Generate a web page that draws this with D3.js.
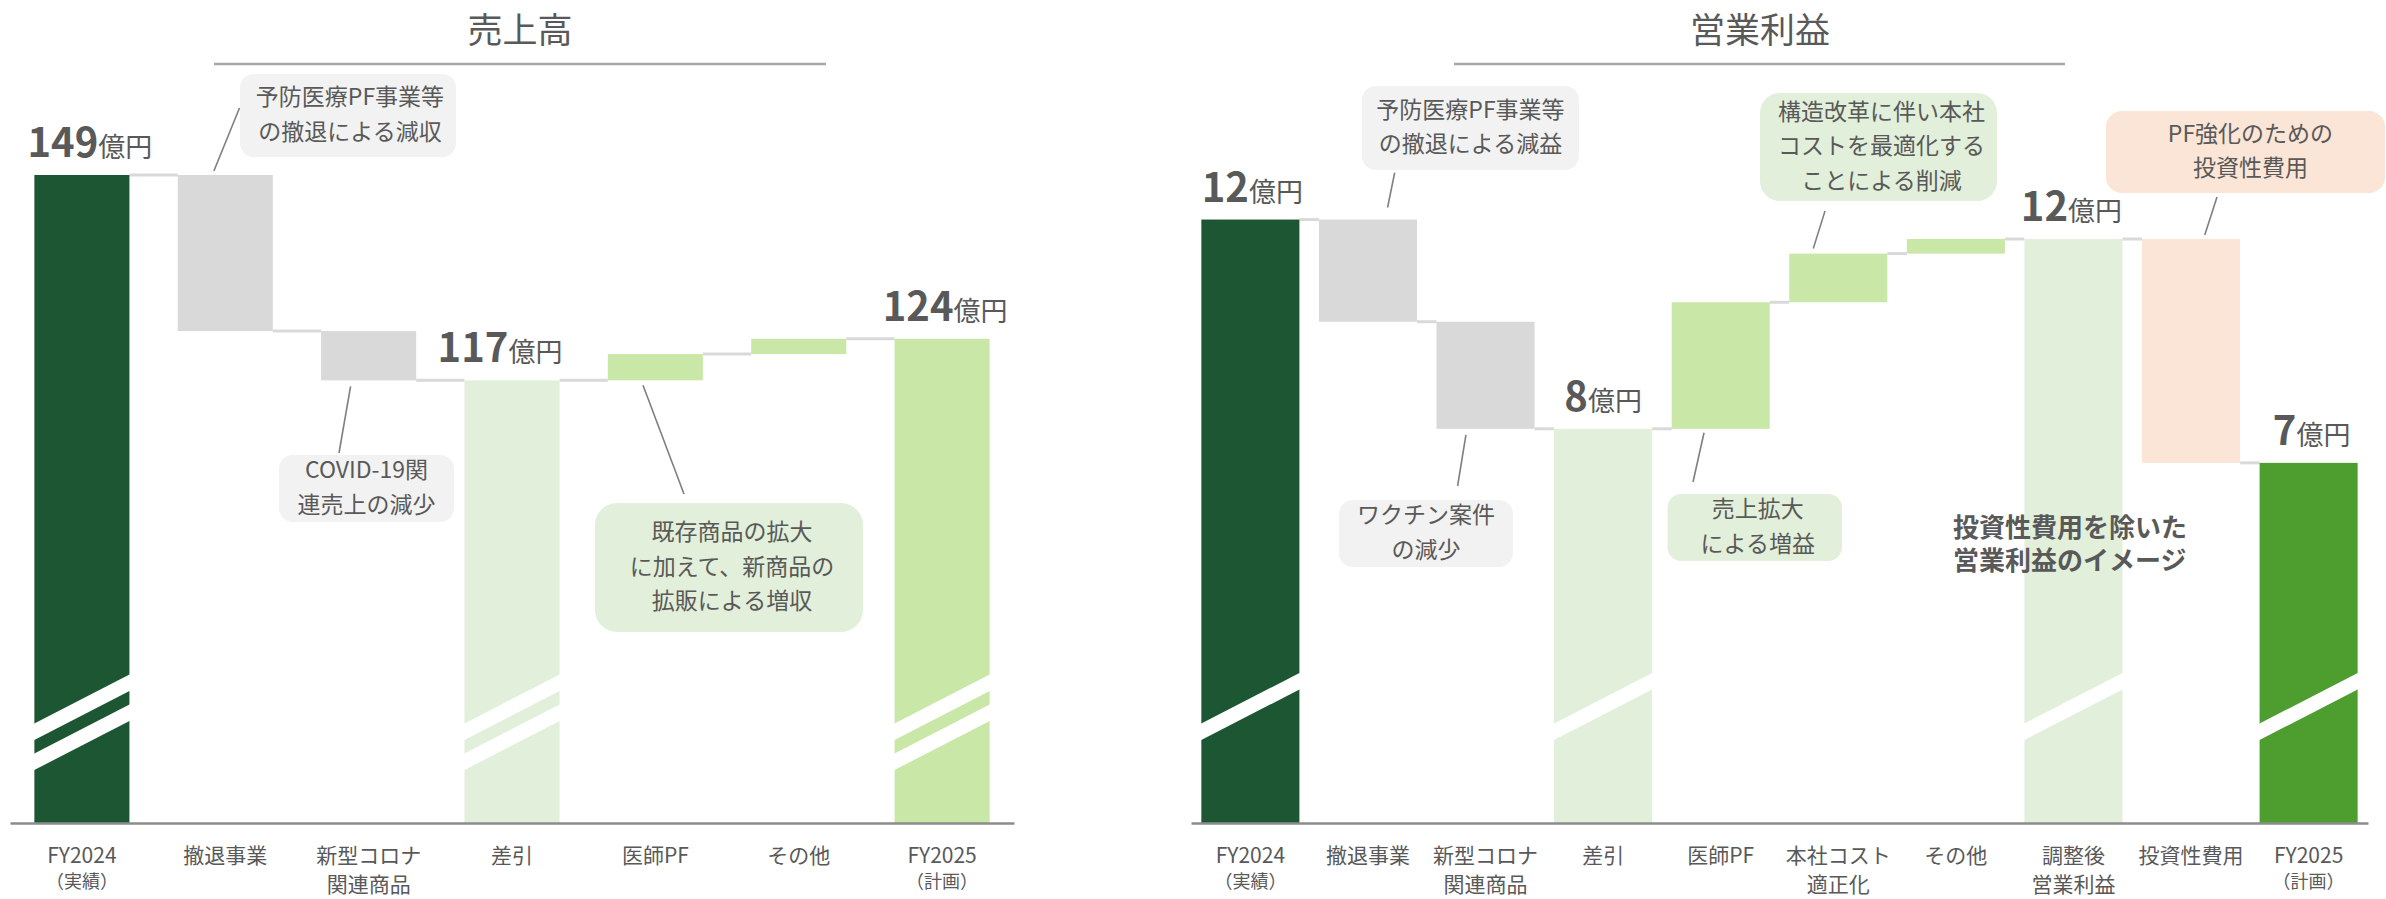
<!DOCTYPE html>
<html lang="ja">
<head>
<meta charset="utf-8">
<script src="https://cdn.jsdelivr.net/npm/d3@7"></script>
<style>
  html, body { margin: 0; padding: 0; background: #fff; }
  svg { display: block; font-family: "Noto Sans CJK JP", "Noto Sans", sans-serif; }
</style>
</head>
<body>
<svg id="chart" width="2386" height="899"></svg>
<script>
// ---- 売上高 (億円) ----
const salesCategories = ["FY2024", "撤退事業", "新型コロナ関連商品", "差引", "医師PF", "その他", "FY2025"];
const salesTickLabels = [["FY2024", "（実績）"], ["撤退事業"], ["新型コロナ", "関連商品"], ["差引"], ["医師PF"], ["その他"], ["FY2025", "（計画）"]];
const salesValues = [149.3, -24.4, -7.7, 117.2, 4.1, 2.4, 123.7];
const salesKinds = ["total", "step", "step", "total", "step", "step", "total"];

// ---- 営業利益 (億円) ----
const profitCategories = ["FY2024", "撤退事業", "新型コロナ関連商品", "差引", "医師PF", "本社コスト適正化", "その他", "調整後営業利益", "投資性費用", "FY2025"];
const profitTickLabels = [["FY2024", "（実績）"], ["撤退事業"], ["新型コロナ", "関連商品"], ["差引"], ["医師PF"], ["本社コスト", "適正化"], ["その他"], ["調整後", "営業利益"], ["投資性費用"], ["FY2025", "（計画）"]];
const profitValues = [12.4, -2.1, -2.2, 8.1, 2.6, 1.0, 0.3, 12.0, -4.6, 7.4];
const profitKinds = ["total", "step", "step", "total", "step", "step", "step", "total", "step", "total"];

// ---- styling ----
const TEXT = "#595959";
const FONT = '"Noto Sans CJK JP", "Noto Sans", sans-serif';
const BASE = 823;               // y of the category axis
const DARK = "#1d5632", GRAY = "#d9d9d9", PALE = "#e2efda", LEAF = "#c9e7a7", MID = "#4e9d2f", PEACH = "#fbe5d6";
const salesFills = [DARK, GRAY, GRAY, PALE, LEAF, LEAF, LEAF];
const profitFills = [DARK, GRAY, GRAY, PALE, LEAF, LEAF, LEAF, PALE, PEACH, MID];

const svg = d3.select("#chart");

// running totals for a waterfall: totals sit on the axis floor, steps float
function waterfall(values, kinds, floor) {
  let run = 0;
  return values.map((v, i) => {
    if (kinds[i] === "total") {
      run = v;
      return { i, v, lo: floor, hi: v, total: true, level: v };
    }
    const a = run, b = run + v;
    run = b;
    return { i, v, lo: Math.min(a, b), hi: Math.max(a, b), total: false, level: b };
  });
}

function drawChart(c) {
  const g = svg.append("g");
  const x = d3.scaleBand().domain(c.categories).range(c.xRange)
    .paddingInner(c.padIn).paddingOuter(c.padOut);
  const y = d3.scaleLinear().domain(c.yDomain).range([BASE, c.yTop]);
  const bw = x.bandwidth();
  const steps = waterfall(c.values, c.kinds, c.yDomain[0]);
  const xOf = d => x(c.categories[d.i]);

  // heading with rule
  g.append("text")
    .attr("x", c.titleX).attr("y", 43)
    .attr("text-anchor", "middle").attr("font-size", 35).attr("fill", TEXT)
    .text(c.title);
  g.append("line")
    .attr("x1", c.ruleX[0]).attr("x2", c.ruleX[1]).attr("y1", 64).attr("y2", 64)
    .attr("stroke", "#a6a6a6").attr("stroke-width", 2.5);

  // connectors between neighbouring bars
  g.selectAll("line.conn").data(steps.slice(0, -1)).join("line")
    .attr("class", "conn")
    .attr("x1", d => xOf(d) + bw)
    .attr("x2", d => x(c.categories[d.i + 1]))
    .attr("y1", d => y(d.level)).attr("y2", d => y(d.level))
    .attr("stroke", "#d9d9d9").attr("stroke-width", 3);

  // bars
  g.selectAll("rect.bar").data(steps).join("rect")
    .attr("class", "bar")
    .attr("x", xOf).attr("width", bw)
    .attr("y", d => y(d.hi))
    .attr("height", d => y(d.lo) - y(d.hi))
    .attr("fill", d => c.fills[d.i]);

  // axis-break stripes across the total bars
  const slope = 0.515, thick = 16.5;
  steps.filter(d => d.total).forEach(d => {
    const x0 = xOf(d) - 1, x1 = xOf(d) + bw + 1;
    c.stripes.forEach(off => {
      const yl = BASE - 99 + off;
      const yr = yl - slope * (x1 - x0);
      g.append("polygon")
        .attr("points", [[x0, yl], [x1, yr], [x1, yr + thick], [x0, yl + thick]].map(p => p.join(",")).join(" "))
        .attr("fill", "#fff");
    });
  });

  // value labels on total bars
  steps.filter(d => d.total).forEach(d => {
    const t = g.append("text")
      .attr("x", xOf(d) + bw / 2 + (c.labelDx[d.i] || 0)).attr("y", y(d.hi) - 18)
      .attr("text-anchor", "middle").attr("fill", TEXT);
    t.append("tspan").attr("font-size", 40).attr("font-weight", 700).text(d3.format(".0f")(d.v));
    t.append("tspan").attr("font-size", 27).text("億円");
  });

  // category axis
  const ax = g.append("g").attr("transform", `translate(0,${BASE})`)
    .call(d3.axisBottom(x).tickSize(0).tickSizeOuter(0).tickFormat(() => ""));
  ax.attr("font-family", FONT).attr("font-size", 21);
  ax.select(".domain").attr("stroke", "#8c8c8c").attr("stroke-width", 2.5);
  ax.selectAll(".tick text").each(function (cat) {
    const lines = c.tickLabels[c.categories.indexOf(cat)];
    const t = d3.select(this).attr("y", null).attr("dy", null).attr("fill", TEXT).text(null);
    lines.forEach((s, k) => {
      const sub = s.startsWith("（");
      t.append("tspan").attr("x", 0)
        .attr("y", k === 0 ? 40 : (sub ? 65 : 69))
        .attr("font-size", sub ? 18 : 21)
        .text(s);
    });
  });

  // callouts with leader lines
  c.notes.forEach(n => {
    const d = steps[c.categories.indexOf(n.cat)];
    const ax0 = xOf(d) + bw * n.fx;
    const ay0 = n.anchor === "top" ? y(d.hi) - n.gap : y(d.lo) + n.gap;
    g.append("line")
      .attr("x1", ax0).attr("y1", ay0).attr("x2", n.end[0]).attr("y2", n.end[1])
      .attr("stroke", "#7f7f7f").attr("stroke-width", 1.6);
    g.append("rect")
      .attr("x", n.box[0]).attr("y", n.box[1]).attr("width", n.box[2]).attr("height", n.box[3])
      .attr("rx", n.rx || 14).attr("fill", n.fill);
    const cx = n.box[0] + n.box[2] / 2 + (n.dx || 0);
    const cy = n.box[1] + n.box[3] / 2;
    const lh = 34.5;
    const t = g.append("text").attr("text-anchor", "middle").attr("font-size", 23).attr("fill", TEXT);
    n.lines.forEach((s, k) => {
      t.append("tspan").attr("x", cx)
        .attr("y", cy + (k - (n.lines.length - 1) / 2) * lh + 7)
        .text(s);
    });
  });
}

drawChart({
  title: "売上高", titleX: 520, ruleX: [214, 826],
  categories: salesCategories, tickLabels: salesTickLabels,
  values: salesValues, kinds: salesKinds, fills: salesFills,
  xRange: [10, 1014], padIn: 0.337, padOut: 0.17,
  yDomain: [48, 149.3], yTop: 175,
  stripes: [0, 30],
  labelDx: [8, 0, 0, -12, 0, 0, 3],
  notes: [
    { cat: "撤退事業", anchor: "top", fx: 0.38, gap: 4, end: [239.5, 108],
      box: [240, 74, 216, 83], fill: "#f2f2f2", dx: 2,
      lines: ["予防医療PF事業等", "の撤退による減収"] },
    { cat: "新型コロナ関連商品", anchor: "bottom", fx: 0.31, gap: 6, end: [339, 453],
      box: [279, 455, 175, 67], fill: "#f2f2f2",
      lines: ["COVID-19関", "連売上の減少"] },
    { cat: "医師PF", anchor: "bottom", fx: 0.37, gap: 5, end: [684, 494],
      box: [595, 503, 268, 129], fill: PALE, rx: 22, dx: 3,
      lines: ["既存商品の拡大", "に加えて、新商品の", "拡販による増収"] }
  ]
});

drawChart({
  title: "営業利益", titleX: 1760, ruleX: [1454, 2065],
  categories: profitCategories, tickLabels: profitTickLabels,
  values: profitValues, kinds: profitKinds, fills: profitFills,
  xRange: [1191, 2368], padIn: 0.166, padOut: 0.088,
  yDomain: [0, 12], yTop: 239,
  stripes: [0],
  labelDx: [2, 0, 0, 0, 0, 0, 0, -2, 0, 3],
  notes: [
    { cat: "撤退事業", anchor: "top", fx: 0.70, gap: 12, end: [1394.7, 172.7],
      box: [1362, 86, 217, 84], fill: "#f2f2f2",
      lines: ["予防医療PF事業等", "の撤退による減益"] },
    { cat: "新型コロナ関連商品", anchor: "bottom", fx: 0.30, gap: 6, end: [1457.6, 486],
      box: [1339, 500, 174, 67], fill: "#f2f2f2",
      lines: ["ワクチン案件", "の減少"] },
    { cat: "医師PF", anchor: "bottom", fx: 0.33, gap: 4, end: [1693, 482],
      box: [1667.5, 494, 174.5, 67], fill: PALE, dx: 3,
      lines: ["売上拡大", "による増益"] },
    { cat: "本社コスト適正化", anchor: "top", fx: 0.245, gap: 5, end: [1825, 211],
      box: [1760, 93, 237, 108], fill: PALE, rx: 20, dx: 3,
      lines: ["構造改革に伴い本社", "コストを最適化する", "ことによる削減"] },
    { cat: "投資性費用", anchor: "top", fx: 0.64, gap: 4, end: [2217, 197],
      box: [2106, 111, 279, 82], fill: PEACH, rx: 16, dx: 5,
      lines: ["PF強化のための", "投資性費用"] }
  ]
});

// caption over the adjusted-profit bar
const cap = svg.append("text").attr("font-size", 26).attr("font-weight", 700).attr("fill", TEXT);
[["投資性費用を除いた", 537], ["営業利益のイメージ", 570]].forEach(([s, yy]) =>
  cap.append("tspan").attr("x", 1953).attr("y", yy).text(s));
</script>
</body>
</html>
